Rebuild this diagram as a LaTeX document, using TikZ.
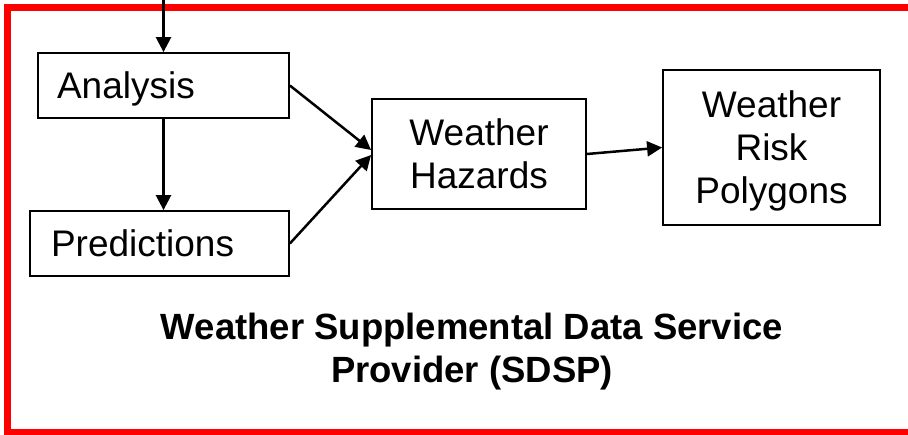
\documentclass[tikz,border=0pt]{standalone}
\usepackage{fontspec}
\setmainfont{Liberation Sans}
\usetikzlibrary{arrows.meta}
\begin{document}
\begin{tikzpicture}[x=1pt,y=-1pt,
  box/.style={draw=black,line width=1.8pt,rectangle,fill=white,
    font=\fontsize{37}{43}\selectfont,align=center,inner sep=0pt,text depth=0pt},
  leftbox/.style={box,align=left},
  conn/.style={draw=black,line width=2.5pt,
    -{Triangle[length=15pt,width=15pt]}},
  frame/.style={draw=red,line width=7pt}
]
\useasboundingbox (0,0) rectangle (908,434);
\fill[white] (0,0) rectangle (908,434);
\path[frame] (7.5,7.5) rectangle (925,432.5);

\node[leftbox,minimum height=65pt,text width=213pt,inner xsep=19pt] (an) at (163.5,85.5) {Analysis};
\node[leftbox,minimum height=65pt,text width=217pt,inner xsep=21pt] (pr) at (159.5,243.5) {Predictions};
\node[box,minimum width=214pt,minimum height=110pt] (hz) at (479,154) {Weather\\Hazards};
\node[box,minimum width=217pt,minimum height=155pt] (po) at (771.5,147.5) {Weather\\Risk\\Polygons};

\node[font=\fontsize{36.5}{43.5}\selectfont\bfseries,align=center,inner sep=0pt] (sdsp) at (472,351.5)
  {Weather Supplemental Data Service\\Provider (SDSP)};

\coordinate (topin) at (163.5,-3);
\draw[conn] (topin) -- (an.north);
\draw[conn] (an.south) -- (pr.north -| an.south);
\draw[conn] (an.east) -- ([yshift=4pt]hz.west);
\draw[conn] (pr.east) -- ([yshift=-1pt]hz.west);
\draw[conn] (hz.east) -- (po.west);
\end{tikzpicture}
\end{document}
